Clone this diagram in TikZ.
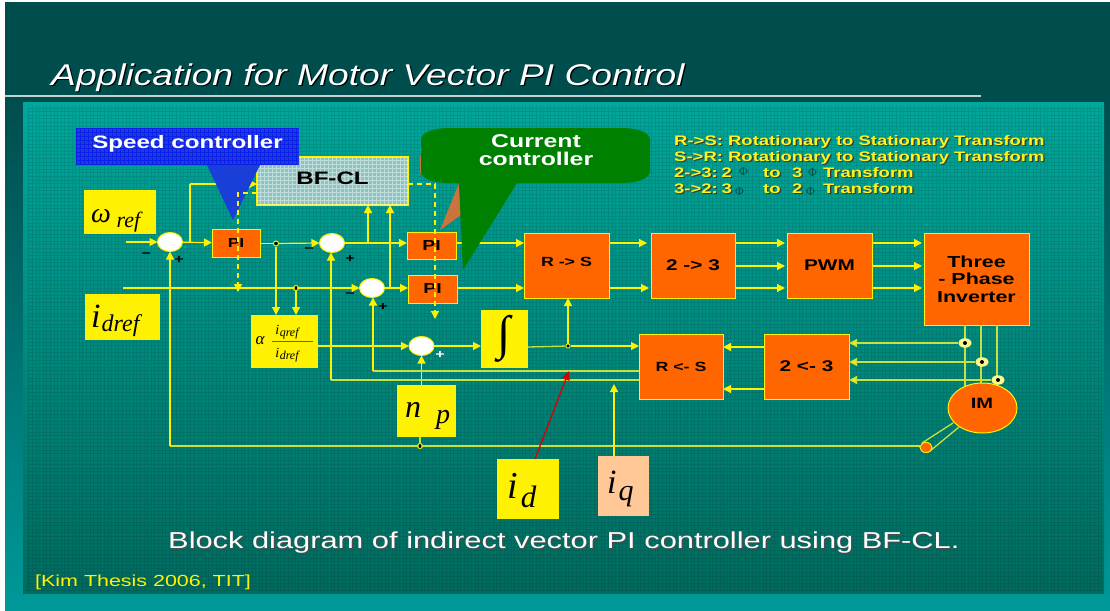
\documentclass[tikz,border=0pt]{standalone}
\usepackage{fontspec}
\setmainfont[FakeStretch=1.34]{Liberation Sans}
\newfontfamily\titlef[FakeStretch=1.24]{Liberation Sans}
\newfontfamily\tms{Liberation Serif}
\usetikzlibrary{arrows.meta,shapes.geometric}
\definecolor{slidetop}{HTML}{004D4D}
\definecolor{slidebot}{HTML}{009999}
\definecolor{paneltop}{HTML}{00A89C}
\definecolor{panelmid}{HTML}{008A7E}
\definecolor{panelbot}{HTML}{006B5F}
\definecolor{boxorange}{HTML}{FF6600}
\definecolor{wireb}{HTML}{C8E040}
\definecolor{gridblue}{HTML}{1A3FD8}
\definecolor{ctrlgreen}{HTML}{008000}
\definecolor{bffill}{HTML}{8CC4BE}
\definecolor{iqcol}{HTML}{FFC896}
\definecolor{hatch}{HTML}{C8743C}
\definecolor{shadowc}{HTML}{3A3A2A}
\newcommand\fsz[1]{\fontsize{#1}{#1}\selectfont}
\newcommand\shtxt[2]{\rlap{\kern1.2pt\raisebox{-1.2pt}{\textcolor{#1}{#2}}}#2}
\tikzset{
  wire/.style={draw=yellow,line width=1.2pt,-{Triangle[length=8pt,width=8pt]}},
  plainwire/.style={draw=yellow,line width=1.2pt},
  wireback/.style={draw=wireb,line width=1.3pt,-{Triangle[length=8pt,width=8pt,fill=yellow]}},
  plainback/.style={draw=wireb,line width=1.3pt},
  dashwire/.style={draw=yellow,line width=1.2pt,dash pattern=on 5pt off 4pt,-{Triangle[length=8pt,width=8pt]}},
  ctrlbox/.style={draw=yellow,line width=1pt,fill=boxorange,inner sep=0pt,outer sep=0pt,font=\bfseries,text=black,align=center},
  ybox/.style={fill=yellow,inner sep=0pt,outer sep=0pt,text=black},
  summer/.style={ellipse,draw=yellow,line width=1pt,fill=white,minimum width=25pt,minimum height=19pt,inner sep=0pt,outer sep=0pt},
  junc/.style={circle,fill=black,draw=yellow,line width=1pt,minimum size=5pt,inner sep=0pt},
  ring/.style={ellipse,fill=white!55!yellow,minimum width=13pt,minimum height=9.5pt,inner sep=0pt,path picture={\fill[black] (path picture bounding box.center) circle (2pt);}},
  sign/.style={inner sep=0pt,font=\bfseries\fsz{12}},
  legend/.style={anchor=base west,inner sep=0pt,text=yellow!90!white,font=\bfseries\fsz{13.8}},
  phi/.style={anchor=base west,inner sep=0pt,text=slidetop,font=\tms\fsz{12}},
  mathlbl/.style={font=\tms\itshape},
}
\begin{document}
\begin{tikzpicture}[x=1pt,y=-1pt]
\useasboundingbox (0,0) rectangle (1110,610);
\fill[white] (0,0) rectangle (1110,610);
\fill[slidetop] (5,2) rectangle (1110,100);
\shade[top color=slidetop,bottom color=slidebot] (5,100) rectangle (1110,610);
\draw[white!75!slidetop,line width=1.3pt] (5,96) -- (981,96);
% panel
\shade[top color=paneltop,bottom color=panelmid] (23,102) rectangle (1104,340);
\shade[top color=panelmid,bottom color=panelbot] (23,340) rectangle (1104,593);
\draw[black,opacity=.1,line width=1pt,step=3.6pt] (27,106) grid (1102,591);
% title
\node[anchor=base west,inner sep=0pt,text=white,font=\titlef\itshape\fsz{30}] (title) at (51,85) {\shtxt{black}{Application for Motor Vector PI Control}};
% BF-CL
\node[draw=yellow,line width=1.2pt,fill=bffill,minimum width=151pt,minimum height=48pt,inner sep=0pt,outer sep=0pt] (bf) at (332.5,181) {};
\begin{scope}
\clip (257,157) rectangle (408,205);
\draw[white,opacity=.45,line width=.6pt,step=4pt] (256,156) grid (409,206);
\end{scope}
\node[font=\bfseries\fsz{18},text=black,inner sep=0pt] (bflabel) at (332.5,178) {BF-CL};
% boxes
\node[ctrlbox,minimum width=48pt,minimum height=28pt,font=\bfseries\fsz{13}] (pia) at (236,243) {PI};
\node[ctrlbox,minimum width=49pt,minimum height=27pt,font=\bfseries\fsz{14.5}] (pib) at (431.5,245.5) {PI};
\node[ctrlbox,minimum width=49pt,minimum height=28pt,font=\bfseries\fsz{14.5}] (pic) at (432.5,289) {PI};
\node[ctrlbox,minimum width=85pt,minimum height=65pt,font=\bfseries\fsz{13.3}] (rs) at (566.5,265.5) {\raisebox{7pt}{R -> S}};
\node[ctrlbox,minimum width=84pt,minimum height=65pt,font=\bfseries\fsz{15.5}] (ttt) at (693,265.5) {2 -> 3};
\node[ctrlbox,minimum width=85pt,minimum height=65pt,font=\bfseries\fsz{15.5}] (pwm) at (829.5,265.5) {PWM};
\node[ctrlbox,minimum width=105pt,minimum height=92pt,font=\bfseries\fsz{16}] (inv) at (976.5,279) {Three\\[1.5pt]- Phase\\[1.5pt]Inverter};
\node[ctrlbox,minimum width=84pt,minimum height=65pt,font=\bfseries\fsz{13.3}] (sr) at (681,366.5) {R <- S};
\node[ctrlbox,minimum width=85pt,minimum height=65pt,font=\bfseries\fsz{15.5}] (tdd) at (806.5,366.5) {2 <- 3};
\node[ellipse,draw=yellow,line width=.8pt,fill=boxorange,minimum width=12pt,minimum height=10pt,inner sep=0pt,outer sep=0pt] (sensor) at (926,447.5) {};
% yellow boxes
\node[ybox,minimum width=72pt,minimum height=44pt] (wref) at (120,212) {};
\node[ybox,minimum width=75pt,minimum height=46pt] (idref) at (122.5,317) {};
\node[ybox,minimum width=67pt,minimum height=53pt] (alpha) at (284.5,341.5) {};
\node[ybox,minimum width=47pt,minimum height=58pt] (intg) at (504.5,339) {};
\node[ybox,minimum width=59pt,minimum height=52pt] (np) at (426.5,411) {};
\node[ybox,minimum width=62pt,minimum height=60pt] (idbox) at (528,489) {};
\node[fill=iqcol,inner sep=0pt,outer sep=0pt,minimum width=51pt,minimum height=60pt] (iqbox) at (623.5,486) {};
% box texts
\node[mathlbl,anchor=base west,inner sep=0pt] (wreftxt) at (91,222) {\fsz{28}ω\,\raisebox{-5pt}{\fsz{22}\kern1pt ref}};
\node[mathlbl,anchor=base west,inner sep=0pt] (idreftxt) at (91,327) {\fsz{34}i\raisebox{-4pt}{\fsz{24}\kern1pt dref}};
\node[inner sep=0pt,font=\tms\itshape\fsz{17}] (alphatxt) at (260,341) {α};
\node[inner sep=0pt,anchor=base,font=\tms\itshape\fsz{14}] (iq) at (287,334) {i\raisebox{-2.5pt}{\fsz{12}\kern.5pt qref}};
\node[inner sep=0pt,anchor=base,font=\tms\itshape\fsz{14}] (id) at (287,357) {i\raisebox{-2.5pt}{\fsz{12}\kern.5pt dref}};
\draw[black!70!yellow,line width=1pt] (272,341) -- (313,341);
\node[inner sep=0pt,font=\tms\fsz{48}] (inttxt) at (504,339) {∫};
\node[anchor=base west,inner sep=0pt,font=\tms\itshape\fsz{32}] (nptxt) at (405,417) {n\kern8pt\raisebox{-6pt}{\fsz{28} p}};
\node[anchor=base west,inner sep=0pt,font=\tms\itshape\fsz{38}] (idtxt) at (507,498) {i\raisebox{-9pt}{\fsz{31}\kern3pt d}};
\node[anchor=base west,inner sep=0pt,font=\tms\itshape\fsz{34}] (iqtxt) at (607,493) {i\raisebox{-7pt}{\fsz{30}\kern2pt q}};
% summers
\node[summer] (sa) at (170,242) {};
\node[summer] (sb) at (332,243) {};
\node[summer] (sc) at (372,288) {};
\node[summer] (sd) at (421.5,346) {};
% junctions
\node[junc] (ja) at (276,243.5) {};
\node[junc] (jb) at (296,288) {};
\node[junc] (jc) at (420,446) {};
\node[junc,minimum size=4pt] (jd) at (568,346) {};
% free ends
\coordinate (wsrc) at (126,242);
\coordinate (isrc) at (123,288);
\coordinate (bbr) at (190,242);
\coordinate (bbc) at (190,184);
\coordinate (bind) at (257,184);
\coordinate (dashA) at (238,193);
\coordinate (dashB) at (238,292);
\coordinate (dashC) at (435,184);
\coordinate (dashD) at (435,319);
\coordinate (spA) at (368,243);
\coordinate (spB) at (390,288);
\coordinate (fbA) at (373,371);
\coordinate (fbB) at (331,380);
\coordinate (fsp) at (170,446);
\coordinate (idtip) at (569,371);
\coordinate (iqtip) at (614,384);
% forward wires
\draw[wire] (wsrc) -- (sa);
\draw[wire] (sa) -- (pia);
\draw[plainwire] (bbr) -- (bbc);
\draw[wire] (bbc) -- (bind);
\draw[plainwire] (pia.east |- ja) -- (ja);
\draw[wire] (ja) -- (sb.west);
\draw[wire] (ja) -- (ja |- alpha.north);
\draw[wire] (isrc) -- (sc.west);
\draw[wire] (jb) -- (jb |- alpha.north);
\draw[wire] (sb.east) -- (pib.west |- sb);
\draw[wire] (spA) -- (spA |- bf.south);
\draw[wire] (sc.east) -- (pic.west |- sc);
\draw[wire] (spB) -- (spB |- bf.south);
\draw[wire] (pib.east |- 0,243) -- (rs.west |- 0,243);
\draw[wire] (pic.east |- 0,288) -- (rs.west |- 0,288);
\draw[wire] (rs.east |- 0,243) -- (647,243);
\draw[wire] (rs.east |- 0,288) -- (649,288);
\foreach \yy in {243,266,288} {
  \draw[wire] (ttt.east |- 0,\yy) -- (785,\yy);
  \draw[wire] (pwm.east |- 0,\yy) -- (922,\yy);
}
\draw[wire] (alpha.east |- sd) -- (sd.west);
\draw[wire] (sd.east) -- (intg.west |- sd);
\draw[plainback] (intg.east |- 0,347) -- (jd);
\draw[wire] (jd) -- (sr.west |- jd);
\draw[wire] (jd) -- (jd |- rs.south);
\draw[wire] (np.north -| sd) -- (sd.south);
\draw[plainback] (np.south -| jc) -- (jc);
% feedback
\draw[plainback] (sr.west |- fbA) -- (fbA);
\draw[wire] (fbA) -- (fbA |- sc.south);
\draw[plainback] (sr.west |- fbB) -- (fbB);
\draw[wire] (fbB) -- (fbB |- sb.south);
\draw[plainback] (sensor.west |- fsp) -- (fsp);
\draw[wire] (fsp) -- (sa.south);
\draw[wire] (tdd.west |- 0,347) -- (sr.east |- 0,347);
\draw[wire] (tdd.west |- 0,389) -- (sr.east |- 0,389);
\draw[plainback] (965,325) -- (965,387);
\draw[plainback] (981,325) -- (981,384);
\draw[plainback] (997,325) -- (997,387);
\node[ring] (ra) at (965,343) {};
\node[ring] (rb) at (982,362) {};
\node[ring] (rc) at (998,380) {};
\draw[wireback] (ra) -- (tdd.east |- ra);
\draw[wireback] (rb) -- (tdd.east |- rb);
\draw[wireback] (rc) -- (tdd.east |- rc);
\draw[plainback] (953,423) -- (922,443);
\draw[plainback] (959,427) -- (930,451);
\node[ellipse,fill=boxorange,draw=yellow,line width=.8pt,minimum width=12pt,minimum height=10pt,inner sep=0pt] (sensortop) at (926,447.5) {};
\node[ellipse,draw=yellow,line width=1pt,fill=boxorange,minimum width=69pt,minimum height=50pt,inner sep=0pt,outer sep=0pt] (im) at (982.5,408) {};
\node[font=\bfseries\fsz{15},inner sep=0pt] (imtxt) at (982,403) {IM};
\foreach \j in {ja,jb,jc,jd} { \fill[black] (\j) circle (1.6pt); }
\draw[-{Triangle[length=9pt,width=8pt]},draw=red!85!black,fill=red!85!black,line width=1.3pt] (idbox.north -| 535,0) -- (idtip);
\draw[wire] (iqbox.north -| iqtip) -- (iqtip);
% signs
\node[sign] (m1) at (146,255) {−};
\node[sign] (p1) at (179,260) {+};
\node[sign] (m2) at (309,250) {−};
\node[sign] (p2) at (350,259) {+};
\node[sign] (m3) at (350,295) {−};
\node[sign] (p3) at (383,307) {+};
\node[sign,text=white] (p4) at (440,355) {+};
% speed callout
\fill[gridblue] (207,165) -- (260,165) -- (233,220) -- cycle;
\fill[gridblue] (76,128) rectangle (299,165);
\draw[blue,opacity=.5,line width=.5pt,step=4pt] (76,128) grid (299,165);
\node[text=white,font=\bfseries\fsz{18},inner sep=0pt] (speedtxt) at (187.5,144) {Speed controller};
% current callout
\fill[hatch] (440,230) -- (459,183) -- (461,215) -- cycle;
\fill[hatch] (420,155) rectangle (423,173);
\fill[ctrlgreen] (450,128) -- (620,128) .. controls (640,128) and (650,133) .. (650,140) -- (650,171) .. controls (650,178) and (640,183) .. (620,183) -- (517,183) -- (463,270) -- (459,183) -- (450,183) .. controls (431,183) and (421,178) .. (421,171) -- (421,140) .. controls (421,133) and (431,128) .. (450,128) -- cycle;
\node[text=white,font=\bfseries\fsz{18.5},inner sep=0pt,align=center] (curtxt) at (536,150) {Current\\[-1pt]controller};
% dashed wires
\draw[dashwire] (bf.west |- dashA) -- (dashA) -- (dashB);
\draw[dashwire] (bf.east |- dashC) -- (dashC) -- (dashD);
% legend
\node[legend] (la) at (674,145.5) {\shtxt{shadowc}{R->S: Rotationary to Stationary Transform}};
\node[legend] (lb) at (674,161) {\shtxt{shadowc}{S->R: Rotationary to Stationary Transform}};
\node[legend] (lc) at (674,177) {\shtxt{shadowc}{2->3:\kern-3pt{} 2}};
\node[phi] (lcp) at (739,175.5) {Φ};
\node[legend] (lcb) at (763,177) {\shtxt{shadowc}{to}};
\node[legend] (lcc) at (792,177) {\shtxt{shadowc}{3}};
\node[phi] (lcq) at (808,176.5) {Φ};
\node[legend] (lcd) at (823,177) {\shtxt{shadowc}{Transform}};
\node[legend] (ld) at (674,193) {\shtxt{shadowc}{3->2:\kern-3pt{} 3}};
\node[phi] (ldp) at (735,195.5) {Φ};
\node[legend] (ldb) at (763,193) {\shtxt{shadowc}{to}};
\node[legend] (ldc) at (792,193) {\shtxt{shadowc}{2}};
\node[phi] (ldq) at (806,195.5) {Φ};
\node[legend] (ldd) at (823,193) {\shtxt{shadowc}{Transform}};
% caption
\node[anchor=base west,inner sep=0pt,text=white,font=\fsz{23}] (caption) at (168,548) {\shtxt{black!70}{Block diagram of indirect vector PI controller using BF-CL.}};
\node[anchor=base west,inner sep=0pt,text=yellow,font=\fsz{16}] (cite) at (35,586) {[Kim Thesis 2006, TIT]};
\end{tikzpicture}
\end{document}
